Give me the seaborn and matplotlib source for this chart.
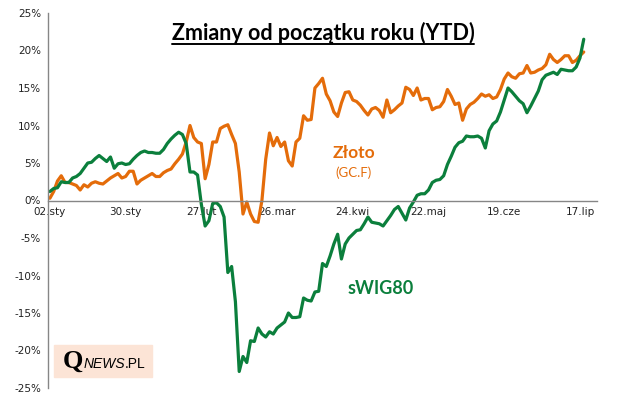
import pandas as pd
import seaborn as sns
import matplotlib.pyplot as plt
from matplotlib.lines import Line2D
from matplotlib.ticker import FixedLocator, FuncFormatter

# YTD change in %, one value per trading day (2 Jan .. ~21 Jul)
zloto = [
    0.3, 1.2, 2.6, 3.3, 2.4, 2.4, 2.2, 2.0, 1.4, 2.1,
    1.8, 2.3, 2.5, 2.3, 2.2, 2.6, 3.0, 3.3, 3.6, 3.0,
    3.2, 3.9, 3.9, 2.2, 2.7, 3.0, 3.3, 3.6, 3.2, 3.2,
    3.7, 4.0, 4.2, 4.9, 5.5, 6.2, 7.8, 10.0, 8.4, 7.8,
    7.6, 2.9, 4.8, 7.8, 7.8, 9.6, 9.9, 10.1, 8.8, 7.6,
    3.8, -1.8, -0.2, -1.8, -2.8, -2.9, 0.0, 5.5, 9.0, 7.3,
    8.4, 7.2, 7.8, 5.3, 4.6, 7.8, 8.3, 11.3, 10.7, 10.8,
    15.0, 15.6, 16.3, 14.2, 13.3, 11.8, 11.2, 13.0, 14.4, 14.5,
    13.4, 13.2, 12.7, 12.0, 11.4, 12.2, 12.4, 12.0, 11.1, 13.4,
    11.7, 12.1, 12.6, 13.0, 15.1, 14.8, 14.0, 15.0, 13.4, 13.6,
    13.6, 12.1, 12.4, 12.5, 13.2, 14.8, 13.9, 12.8, 13.0, 10.7,
    12.2, 12.8, 13.1, 13.6, 14.2, 13.9, 14.1, 13.6, 13.8, 14.8,
    16.2, 17.0, 16.5, 16.3, 16.9, 17.0, 18.0, 17.0, 17.1, 17.4,
    17.6, 18.1, 19.5, 18.8, 18.4, 18.8, 19.3, 19.3, 18.4, 18.7,
    19.3, 19.8,
]
swig80 = [
    1.2, 1.6, 1.7, 2.5, 2.4, 2.4, 3.0, 3.2, 3.6, 4.3,
    5.0, 5.1, 5.6, 6.0, 5.6, 5.2, 5.8, 4.3, 4.9, 5.0,
    4.8, 4.9, 5.5, 6.0, 6.4, 6.6, 6.4, 6.4, 6.3, 6.3,
    6.8, 7.6, 8.2, 8.7, 9.1, 8.8, 7.6, 3.8, 3.8, 3.4,
    -0.5, -3.4, -2.7, -0.4, -0.3, -0.8, -2.2, -9.6, -8.8, -13.5,
    -22.8, -20.8, -21.6, -18.7, -18.8, -17.0, -17.8, -18.2, -17.5, -17.8,
    -17.0, -16.6, -16.2, -15.0, -15.6, -15.6, -15.5, -13.0, -13.3, -13.4,
    -12.2, -12.1, -8.4, -8.8, -7.4, -5.8, -4.5, -7.8, -5.8, -5.0,
    -4.5, -4.0, -3.9, -3.1, -2.2, -2.9, -3.0, -3.1, -3.4, -2.7,
    -2.0, -1.2, -0.8, -1.7, -2.6, -1.0, -0.2, 0.7, 0.9, 0.9,
    1.4, 2.4, 2.7, 2.8, 3.3, 4.8, 5.9, 7.1, 7.7, 7.9,
    8.6, 8.5, 8.5, 8.6, 8.3, 7.0, 9.3, 10.2, 10.6, 11.8,
    13.4, 15.0, 14.5, 13.9, 13.3, 12.9, 11.7, 12.6, 13.6, 14.6,
    16.1, 16.7, 16.9, 17.1, 16.8, 17.5, 17.4, 17.3, 17.3, 17.8,
    19.0, 21.5,
]
date_labels = ["02.sty", "30.sty", "27.lut", "26.mar", "24.kwi", "22.maj", "19.cze", "17.lip"]
label_step = 20
yticks = [-25, -20, -15, -10, -5, 0, 5, 10, 15, 20, 25]

ORANGE = "#E46C0A"
GREEN = "#0B7F3C"
GREY = "#868686"

df = pd.DataFrame({
    "day": list(range(len(zloto))) * 2,
    "change": zloto + swig80,
    "series": ["Złoto"] * len(zloto) + ["sWIG80"] * len(swig80),
})

sns.set_style("white")
plt.rcParams["font.family"] = ["DejaVu Sans"]

fig = plt.figure(figsize=(6.25, 3.99), dpi=100)
ax = fig.add_axes([48 / 625, 11 / 399, 549 / 625, 375 / 399])

sns.lineplot(data=df, x="day", y="change", hue="series",
             palette={"Złoto": ORANGE, "sWIG80": GREEN},
             hue_order=["Złoto", "sWIG80"], linewidth=2.3, ax=ax, legend=False)

ax.set_xlim(-0.5, 144.5)
ax.set_ylim(-25, 25)
ax.set_xlabel("")
ax.set_ylabel("")

# spines: y-axis on the left, x-axis running through zero
for s in ["top", "right"]:
    ax.spines[s].set_visible(False)
ax.spines["bottom"].set_position(("data", 0))
ax.spines["left"].set_color(GREY)
ax.spines["bottom"].set_color(GREY)
ax.spines["left"].set_linewidth(1.0)
ax.spines["bottom"].set_linewidth(1.0)

ax.yaxis.set_major_locator(FixedLocator(yticks))
ax.yaxis.set_major_formatter(FuncFormatter(lambda v, p: f"{int(round(v))}%"))
ax.tick_params(axis="y", length=3, color=GREY, labelsize=7.5, pad=2, labelcolor="#222222")

# labels every 20 days, tick marks every 25 days
ax.set_xticks(range(0, label_step * len(date_labels), label_step))
ax.set_xticklabels(date_labels)
ax.set_xticks([-0.5 + 25 * k for k in range(6)], minor=True)
ax.tick_params(axis="x", which="major", length=0, labelsize=7.5, pad=5, labelcolor="#222222")
ax.tick_params(axis="x", which="minor", length=4, color=GREY, width=1, direction="out")

# title with underline
title = fig.text(323 / 625, 1 - 33 / 399, "Zmiany od początku roku (YTD)",
                 ha="center", va="center", fontsize=15.5, fontweight="bold",
                 family="Lato", color="black")
fig.canvas.draw()
renderer = fig.canvas.get_renderer()
to_fig = fig.transFigure.inverted()
bb = title.get_window_extent(renderer).transformed(to_fig)
fig.add_artist(Line2D([bb.x0, bb.x1], [1 - 44 / 399] * 2, transform=fig.transFigure,
                      color="black", linewidth=1.4))

# series annotations
fig.text(354 / 625, 1 - 153 / 399, "Złoto", ha="center", va="center",
         fontsize=12.5, fontweight="bold", family="Lato", color=ORANGE)
fig.text(354 / 625, 1 - 173 / 399, "(GC.F)", ha="center", va="center",
         fontsize=9.5, family="Lato", color=ORANGE)
fig.text(381 / 625, 1 - 289 / 399, "sWIG80", ha="center", va="center",
         fontsize=13, fontweight="bold", family="Lato", color=GREEN)

# logo box
fig.patches.append(plt.Rectangle((54 / 625, 1 - 377 / 399), 98 / 625, 32 / 399,
                                 transform=fig.transFigure, color="#FCE4D6", zorder=0))
base_y = 1 - 368 / 399
q = fig.text(63 / 625, base_y, "Q", ha="left", va="baseline",
             fontsize=19, fontweight="bold", family="Liberation Serif", color="black")
x_next = q.get_window_extent(renderer).transformed(to_fig).x1
news = fig.text(x_next, base_y, "NEWS", ha="left", va="baseline",
                fontsize=10, style="italic", family="Liberation Sans", color="black")
x_next = news.get_window_extent(renderer).transformed(to_fig).x1
fig.text(x_next, base_y, ".PL", ha="left", va="baseline",
         fontsize=10, family="Liberation Sans", color="black")

fig.savefig("out.png", dpi=100)
